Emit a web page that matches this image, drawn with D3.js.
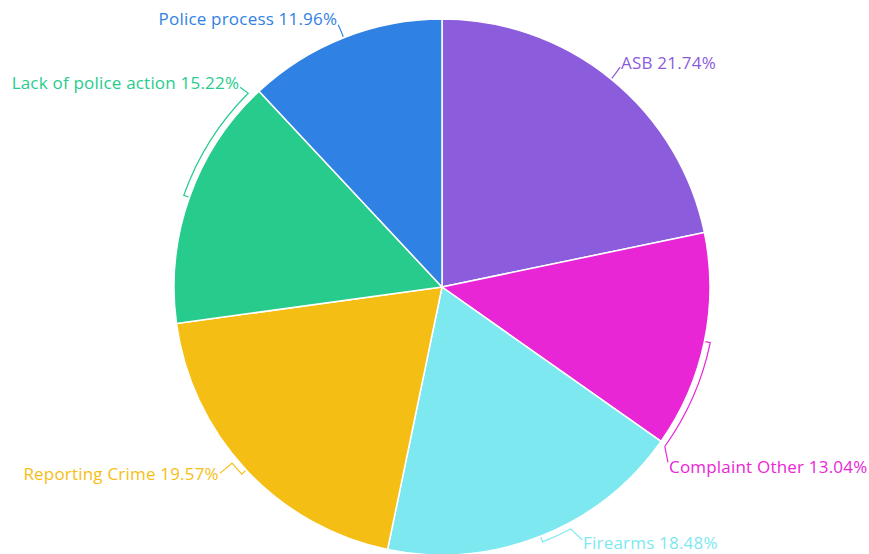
<!DOCTYPE html>
<html>
<head>
<meta charset="utf-8">
<script src="https://cdn.jsdelivr.net/npm/d3@7"></script>
<style>
  body { margin: 0; background: #fff; }
  svg { display: block; }
  .label { font-family: "Open Sans", sans-serif; font-size: 17px; letter-spacing: 0.2px; }
</style>
</head>
<body>
<div id="chart"></div>
<script>
// data
const categories = ["ASB", "Complaint Other", "Firearms", "Reporting Crime", "Lack of police action", "Police process"];
const percentages = [21.74, 13.04, 18.48, 19.57, 15.22, 11.96];
const colors = ["#8b5cdc", "#e926d6", "#7ee8f1", "#f5be14", "#27cc8d", "#2f82e3"];

// leader layout (degrees clockwise from 12 o'clock, radii in px)
const leaderArcEnd = [39.1, 125.6, 152.0, 230.0, 315.0, 338.5];
const labelAngle = [39.0, 127.8, 151.0, 230.0, 314.7, 338.4];
const labelRadius = [283, 286, 289, 290, 284, 282];
const labelDy = [-5, 4, 3, 0, -5, -6];

const width = 869, height = 554;
const cx = 442, cy = 287, radius = 268, tickRadius = 274;

const svg = d3.select("#chart").append("svg")
    .attr("width", width)
    .attr("height", height);

const g = svg.append("g").attr("transform", "translate(" + cx + "," + cy + ")");

const pie = d3.pie().sort(null).value(function (d) { return d; });
const arc = d3.arc().innerRadius(0).outerRadius(radius);
const arcs = pie(percentages);

const rad = function (deg) { return deg * Math.PI / 180; };
const polar = function (a, r) { return [r * Math.sin(a), -r * Math.cos(a)]; };

//Draw slices
g.selectAll("path.slice")
    .data(arcs)
    .enter().append("path")
    .attr("class", "slice")
    .attr("d", arc)
    .attr("fill", function (d, i) { return colors[i]; })
    .attr("stroke", "#fff")
    .attr("stroke-width", 1.5)
    .attr("stroke-linejoin", "round");

//Draw leader lines
g.selectAll("path.leader")
    .data(arcs)
    .enter().append("path")
    .attr("class", "leader")
    .attr("fill", "none")
    .attr("stroke", function (d, i) { return colors[i]; })
    .attr("stroke-width", 1.2)
    .attr("d", function (d, i) {
        const mid = (d.startAngle + d.endAngle) / 2;
        const end = rad(leaderArcEnd[i]);
        const p = d3.path();
        const a = polar(mid, radius + 1);
        const b = polar(mid, tickRadius);
        const l = polar(rad(labelAngle[i]), labelRadius[i]);
        p.moveTo(a[0], a[1]);
        p.lineTo(b[0], b[1]);
        if (Math.abs(end - mid) > 0.01) {
            p.arc(0, 0, tickRadius, mid - Math.PI / 2, end - Math.PI / 2, end < mid);
        }
        p.lineTo(l[0], l[1]);
        return p.toString();
    });

//Draw labels
g.selectAll("text.label")
    .data(arcs)
    .enter().append("text")
    .attr("class", "label")
    .attr("x", function (d, i) {
        const l = polar(rad(labelAngle[i]), labelRadius[i]);
        return l[0] + (labelAngle[i] < 180 ? 1 : -1);
    })
    .attr("y", function (d, i) {
        return polar(rad(labelAngle[i]), labelRadius[i])[1] + labelDy[i];
    })
    .attr("dominant-baseline", "central")
    .style("text-anchor", function (d, i) { return labelAngle[i] < 180 ? "start" : "end"; })
    .attr("fill", function (d, i) { return colors[i]; })
    .text(function (d, i) { return categories[i] + " " + percentages[i].toFixed(2) + "%"; });
</script>
</body>
</html>
